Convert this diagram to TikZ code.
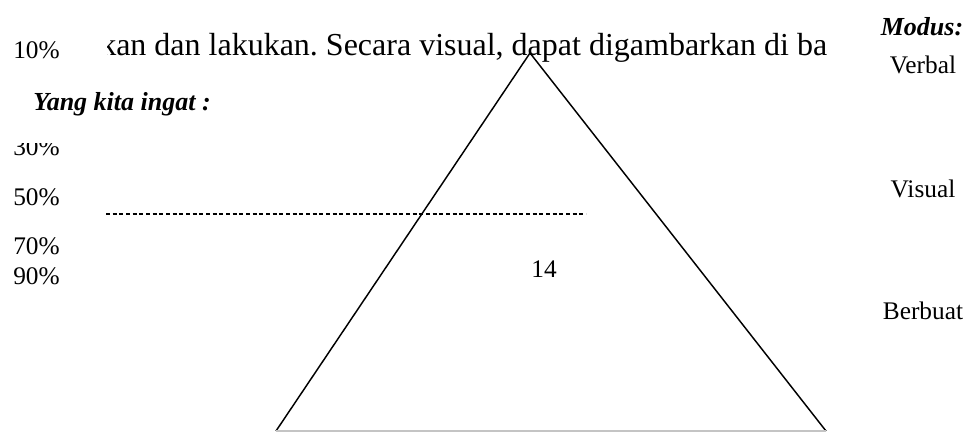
\documentclass[tikz,border=0pt]{standalone}
\usepackage{fontspec}
\setmainfont{Liberation Serif}
\usetikzlibrary{positioning}
\frenchspacing
\definecolor{daleInk}{HTML}{000000}
\definecolor{daleRule}{HTML}{C4C4C4}
\tikzset{
  dale side/.style={draw=daleInk, line width=1.1pt},
  dale base/.style={draw=daleRule, line width=0.8pt},
  dale guide/.style={draw=daleInk, dash pattern=on 3pt off 2pt, line width=1.1pt},
  dale label/.style={font=\fontsize{19}{22}\selectfont, text=daleInk, inner sep=0pt},
  dale head/.style={font=\fontsize{19.5}{22}\selectfont\bfseries\itshape, text=daleInk, inner sep=0pt},
  dale body/.style={font=\fontsize{24}{28}\selectfont, text=daleInk, inner sep=0pt},
}

\begin{document}
\begin{tikzpicture}[x=0.75pt,y=-0.75pt]
  \useasboundingbox (0,0) rectangle (971,432);
  % running sentence, cut off on the left
  \begin{scope}
    \clip (107,0) rectangle (971,432);
    \node[dale body, anchor=base west] (kalimat) at (100,55) {kan dan lakukan. Secara visual, dapat digambarkan di ba};
  \end{scope}
  % triangle
  \coordinate (puncak) at (530,53);
  \coordinate (kiri) at (276,431);
  \coordinate (kanan) at (826,431);
  \draw[dale side] (kiri) -- (puncak) -- (kanan);
  \draw[dale base] (kiri) -- (kanan);
  \coordinate (batas awal) at (106,214);
  \coordinate (batas akhir) at (586,214);
  \draw[dale guide] (batas awal) -- (batas akhir);
  \node[dale label, anchor=base] (halaman) at (544,277) {14};
  % left column
  \node[dale label, anchor=base west] (p10) at (13,58) {10\%};
  \node[dale head, anchor=base west] (ingat) at (33,110) {Yang kita ingat :};
  \begin{scope}
    \clip (0,143) rectangle (100,170);
    \node[dale label, anchor=base west] (p30) at (13,155) {30\%};
  \end{scope}
  \node[dale label, anchor=base west] (p50) at (13,205) {50\%};
  \node[dale label, anchor=base west] (p70) at (13,254) {70\%};
  \node[dale label, anchor=base west] (p90) at (13,284) {90\%};
  % right column
  \node[dale head, anchor=base] (modus) at (922,35) {Modus:};
  \node[dale label, anchor=base] (verbal) at (923,73) {Verbal};
  \node[dale label, anchor=base] (visual) at (923,197) {Visual};
  \node[dale label, anchor=base] (berbuat) at (923,319) {Berbuat};
\end{tikzpicture}
\end{document}
